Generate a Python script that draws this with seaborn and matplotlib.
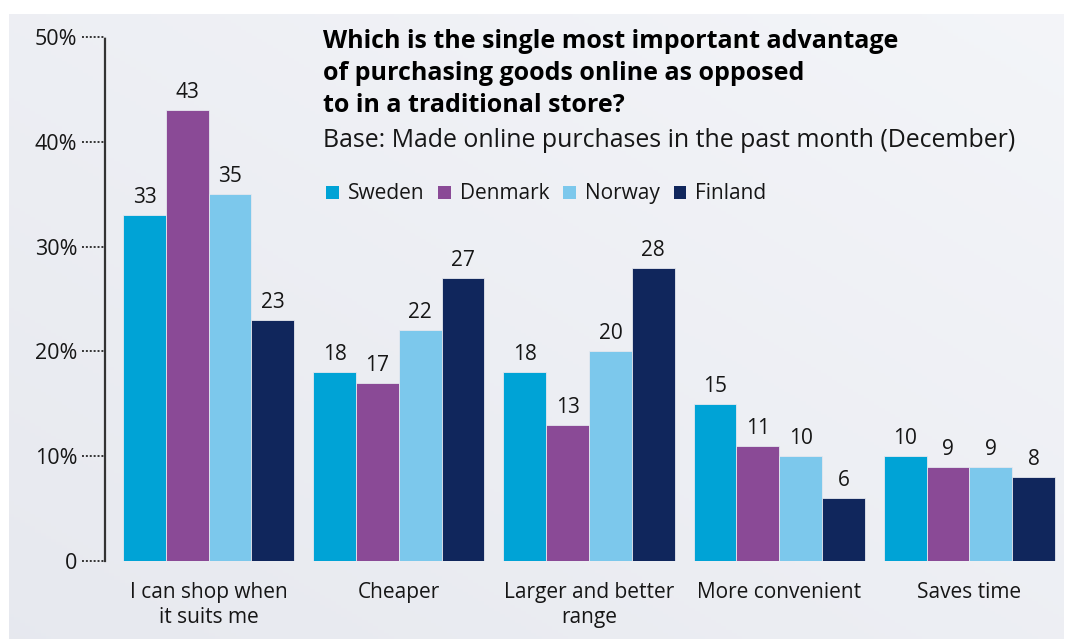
import matplotlib
matplotlib.use("Agg")
import matplotlib.pyplot as plt
import seaborn as sns
import pandas as pd
import numpy as np
from matplotlib.patches import Rectangle
import matplotlib.transforms as mtransforms

categories = ["I can shop when\nit suits me", "Cheaper", "Larger and better\nrange",
              "More convenient", "Saves time"]
countries = ["Sweden", "Denmark", "Norway", "Finland"]
sweden = [33, 18, 18, 15, 10]
denmark = [43, 17, 13, 11, 9]
norway = [35, 22, 20, 10, 9]
finland = [23, 27, 28, 6, 8]
y_ticks = [0, 10, 20, 30, 40, 50]
y_ticklabels = ["0", "10%", "20%", "30%", "40%", "50%"]
colors = ["#00a3d6", "#8a4a96", "#7cc8ec", "#10265c"]

rows = []
for c, vals in zip(countries, [sweden, denmark, norway, finland]):
    for cat, v in zip(categories, vals):
        rows.append({"category": cat, "country": c, "value": v})
df = pd.DataFrame(rows)

sns.set_theme(style="white")
plt.rcParams["font.family"] = ["Open Sans", "DejaVu Sans"]
TXT = "#161616"

fig = plt.figure(figsize=(10.69, 6.39), dpi=100)
fig.patch.set_facecolor("white")

# background panel with soft gradient
bg = fig.add_axes([9/1069, 0, 1055/1069, 1 - 14/639], zorder=-10)
gx = np.linspace(0, 1, 200)
gy = np.linspace(0, 1, 200)
GX, GY = np.meshgrid(gx, gy)
grad = 0.5 * GX + 0.5 * (1 - GY)
c0 = np.array([0.905, 0.913, 0.937])
c1 = np.array([0.955, 0.960, 0.975])
img = c0[None, None, :] * (1 - grad[..., None]) + c1[None, None, :] * grad[..., None]
bg.imshow(img, aspect="auto", extent=[0, 1, 0, 1], origin="upper")
bg.set_axis_off()

ax = fig.add_axes([105/1069, 1 - 561/639, (1060 - 105)/1069, (561 - 37)/639])
ax.set_facecolor("none")

sns.barplot(data=df, x="category", y="value", hue="country", hue_order=countries,
            order=categories, palette=colors, width=0.9, saturation=1, gap=0,
            edgecolor="#e6e8ee", linewidth=0.6, ax=ax, legend=False)

for cont in ax.containers:
    ax.bar_label(cont, padding=5, fontsize=15, color=TXT)

ax.set_ylim(0, 50)
ax.set_xlim(-0.545, 4.476)
ax.set_yticks(y_ticks)
ax.set_yticklabels(y_ticklabels, fontsize=15.5, color=TXT)
ax.tick_params(axis="y", length=0, pad=20)
ax.tick_params(axis="x", length=0, pad=15)
for lab in ax.get_xticklabels():
    lab.set_fontsize(15)
    lab.set_color(TXT)
    lab.set_linespacing(1.25)
ax.set_xlabel("")
ax.set_ylabel("")

for s in ["top", "right", "bottom"]:
    ax.spines[s].set_visible(False)
ax.spines["left"].set_linestyle((0, (1, 1)))
ax.spines["left"].set_linewidth(1.6)
ax.spines["left"].set_color("#333333")

trans = mtransforms.blended_transform_factory(ax.transAxes, ax.transData)
ax.hlines(y_ticks, -0.024, 0, transform=trans, colors="#333333",
          linestyles=(0, (1, 1)), linewidth=1.4, clip_on=False)

# title and subtitle
tx = 323/1069
fig.text(tx, 1 - 41/639, "Which is the single most important advantage",
         fontsize=18, fontweight="bold", color="#000000", va="center", ha="left")
fig.text(tx, 1 - 73/639, "of purchasing goods online as opposed",
         fontsize=18, fontweight="bold", color="#000000", va="center", ha="left")
fig.text(tx, 1 - 105/639, "to in a traditional store?",
         fontsize=18, fontweight="bold", color="#000000", va="center", ha="left")
fig.text(tx, 1 - 140/639, "Base: Made online purchases in the past month (December)",
         fontsize=17.9, color=TXT, va="center", ha="left")

# legend
handles = [Rectangle((0, 0), 1, 1, facecolor=c, edgecolor="none") for c in colors]
leg = fig.legend(handles, countries, loc="center left",
                 bbox_to_anchor=(318/1069, 1 - 194/639), ncol=4, frameon=False,
                 fontsize=15, handlelength=0.6, handleheight=0.6,
                 handletextpad=0.45, columnspacing=0.65, borderaxespad=0)
for t in leg.get_texts():
    t.set_color(TXT)

fig.savefig("out.png", dpi=100)
